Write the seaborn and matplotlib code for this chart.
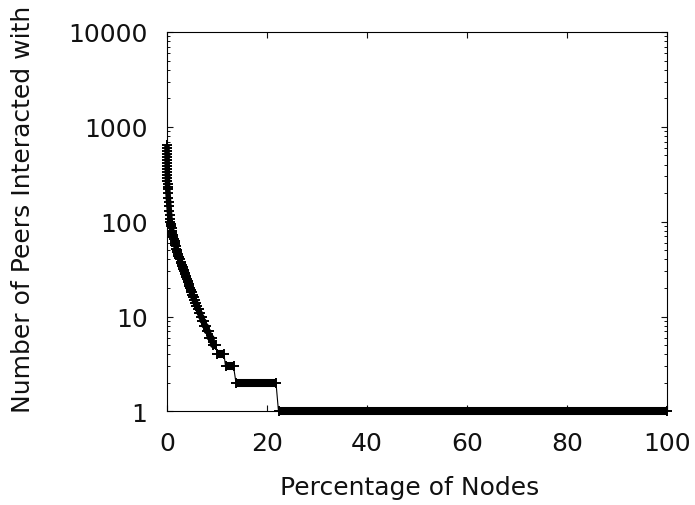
import matplotlib
matplotlib.use("Agg")
import matplotlib.pyplot as plt
import seaborn as sns
import pandas as pd
from matplotlib.ticker import FixedLocator, LogLocator, NullFormatter

# ---- data ----
# steep head of the curve: top-ranked nodes (percentage of nodes, peers)
tail_pct = [0.0, 0.0, 0.0, 0.01, 0.02, 0.02, 0.03, 0.04, 0.05, 0.06, 0.07, 0.08,
            0.09, 0.1, 0.12, 0.15, 0.2, 0.26, 0.33, 0.4, 0.47, 0.54, 0.6, 0.68,
            0.75, 0.82, 0.9, 0.98, 1.08, 1.18, 1.29, 1.4, 1.5, 1.6, 1.69, 1.78,
            1.88, 1.98, 2.08, 2.18, 2.27, 2.36, 2.48, 2.6, 2.71, 2.82, 2.94, 3.06,
            3.15, 3.24, 3.33, 3.42, 3.52, 3.62, 3.73, 3.84, 4.0, 4.1, 4.22, 4.34, 4.48]
tail_peers = [640, 600, 560, 520, 480, 450, 420, 390, 360, 335, 310, 290,
              270, 250, 235, 220, 200, 180, 160, 145, 130, 118, 107, 100,
              95, 90, 85, 80, 76, 72, 69, 66, 63, 60, 57, 55,
              52, 50, 48, 46, 44, 43, 41, 40, 38, 37, 35, 34,
              33, 32, 31, 30, 29, 28, 27, 26, 25, 24, 23, 22, 21]

# runs of nodes sharing the same (small) number of peers
run_peers = [20, 19, 18, 17, 16, 15, 14, 13, 12, 11, 10, 9, 8, 7, 6, 5, 4, 3, 2, 1]
run_start = [4.55, 4.7, 4.85, 5.0, 5.18, 5.38, 5.6, 5.85, 6.1, 6.4, 6.7, 7.05,
             7.45, 7.9, 8.45, 9.15, 10.0, 11.7, 13.8, 22.3]
run_end = [4.65, 4.8, 4.95, 5.12, 5.32, 5.52, 5.78, 6.05, 6.3, 6.6, 6.95, 7.35,
           7.8, 8.3, 8.95, 9.8, 11.4, 13.3, 21.8, 100.0]

x_ticks = [0, 20, 40, 60, 80, 100]
y_ticks = [1, 10, 100, 1000, 10000]
y_tick_labels = ["1", "10", "100", "1000", "10000"]
x_label = "Percentage of Nodes"
y_label = "Number of Peers Interacted with"

# ---- assemble ordered point sequence ----
seq_pct = list(tail_pct)
seq_peers = list(tail_peers)
for p, s, e in zip(run_peers, run_start, run_end):
    seq_pct += [s, e]
    seq_peers += [p, p]
df = pd.DataFrame({"pct": seq_pct, "peers": seq_peers})
n_band = len(tail_pct) + 2 * (len(run_peers) - 4)  # head + runs down to 5 peers

sns.set_style("ticks")
plt.rcParams["font.family"] = ["DejaVu Sans"]
plt.rcParams["font.size"] = 18
for key in ["text.color", "axes.labelcolor", "xtick.color", "ytick.color"]:
    plt.rcParams[key] = "#111111"

fig = plt.figure(figsize=(6.95, 5.06), dpi=100)
ax = fig.add_axes([0.2403, 0.1848, 0.7194, 0.75])

# thin connecting line
sns.lineplot(data=df, x="pct", y="peers", sort=False, estimator=None,
             color="black", lw=0.8, ax=ax, clip_on=False)
# thick band of the dense head
ax.plot(seq_pct[:n_band], seq_peers[:n_band], color="black", lw=4.0,
        solid_capstyle="butt", solid_joinstyle="round", clip_on=False, zorder=3)
# dense runs appear as solid bars
ax.hlines(run_peers, run_start, run_end, colors="black", lw=5.8,
          capstyle="butt", clip_on=False, zorder=3)
# plus markers
ax.plot(seq_pct, seq_peers, linestyle="none", marker="+", ms=6.5, mew=1.4,
        color="black", clip_on=False, zorder=4)

ax.set_yscale("log")
ax.set_xlim(0, 100)
ax.set_ylim(1, 10000)
ax.xaxis.set_major_locator(FixedLocator(x_ticks))
ax.set_xticklabels([str(t) for t in x_ticks])
ax.yaxis.set_major_locator(FixedLocator(y_ticks))
ax.set_yticklabels(y_tick_labels)
ax.yaxis.set_minor_locator(LogLocator(base=10, subs=range(2, 10)))
ax.yaxis.set_minor_formatter(NullFormatter())

for sp in ax.spines.values():
    sp.set_visible(True)
    sp.set_linewidth(0.8)
    sp.set_color("black")

ax.tick_params(axis="both", which="major", direction="in", length=4.5, width=0.8,
               top=True, right=True, labelsize=18)
ax.tick_params(axis="y", which="major", pad=14)
ax.tick_params(axis="x", which="major", pad=14)
ax.tick_params(axis="y", which="minor", direction="in", length=2.5, width=0.7,
               left=True, right=True)

ax.set_xlabel(x_label, fontsize=18)
ax.set_ylabel(y_label, fontsize=18)
ax.xaxis.set_label_coords(0.486, -0.168)
ax.yaxis.set_label_coords(-0.264, 0.536)

fig.savefig("out.png", dpi=100)
